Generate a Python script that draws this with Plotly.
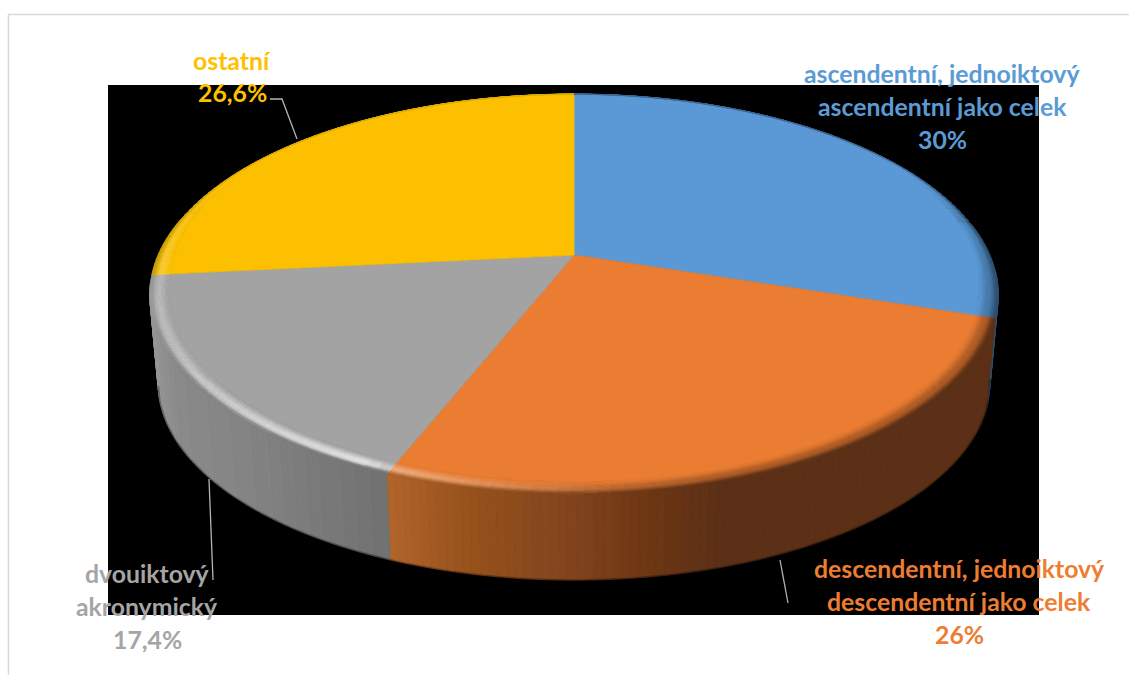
import numpy as np
import plotly.graph_objects as go

# Pie data
categories = ["ascendentní, jednoiktový / ascendentní jako celek",
              "descendentní, jednoiktový / descendentní jako celek",
              "dvouiktový akronymický",
              "ostatní"]
values = [30, 26, 17.4, 26.6]
value_labels = ["30%", "26%", "17,4%", "26,6%"]
label_lines = [
    ["ascendentní, jednoiktový", "ascendentní jako celek"],
    ["descendentní, jednoiktový", "descendentní jako celek"],
    ["dvouiktový", "akronymický"],
    ["ostatní"],
]

# Slice colours
top_colors = [(90, 153, 213), (235, 125, 50), (163, 163, 163), (252, 192, 0)]
text_colors = ["#5B9BD5", "#ED7D31", "#A5A5A5", "#FFC000"]

# Label placement: centre x and the y of each text line
label_x = [942, 959, 147, 232]
label_y = [[73, 106, 139], [568, 601, 634], [573, 606, 639], [60, 92]]
leaders = [None,
           [(780, 560), (788, 603)],
           [(209, 479), (213, 580)],
           [(270, 99), (282, 99), (297, 139)]]

# Perspective model of the tilted disc
CX, CY, A, B, K = 574.0, 255.0, 416.0, 192.7, 0.197
DEPTH, LOWER_SCALE = 90.0, 0.98


def bevel_radius(theta):
    """Inner radius of the rounded edge; it narrows towards the back of the disc."""
    return np.interp(theta, [0, 60, 100, 265, 300, 360], [.993, .99, .955, .955, .99, .993])


def project(theta_deg, r=1.0, lower=False):
    th = np.radians(theta_deg)
    u, v = r * np.sin(th), -r * np.cos(th)
    s = 1.0 / (1.0 - K * v)
    scale = LOWER_SCALE if lower else 1.0
    return CX + A * u * s * scale, CY + B * v * s * scale + (DEPTH if lower else 0.0)


def lerp(c1, c2, t):
    return tuple(a + (b - a) * t for a, b in zip(c1, c2))


def smooth(t):
    t = float(np.clip(t, 0, 1))
    return t * t * (3 - 2 * t)


def wall_color(idx, theta):
    x = project(theta)[0]
    if idx == 1:
        xs = [390, 470, 570, 650, 720, 1000]
        stops = [(176, 100, 42), (150, 82, 28), (130, 68, 30), (108, 54, 20), (92, 48, 22), (92, 48, 22)]
    elif idx == 2:
        xs = [150, 175, 260, 330, 392]
        stops = [(150, 150, 150), (138, 138, 138), (130, 130, 130), (120, 120, 120), (112, 112, 112)]
    elif idx == 0:
        return (45, 78, 112)
    else:
        return (205, 160, 0)
    return tuple(float(np.interp(x, xs, [c[i] for c in stops])) for i in range(3))


def rim_color(idx, theta, t):
    base = top_colors[idx]
    glow = float(np.interp(theta, [160, 178, 190, 201, 205, 225, 245, 264, 300],
                           [0, .1, .25, .36, .7, .52, .3, .22, 0]))
    shade = float(np.interp(theta, [60, 95, 175, 200], [0, 1, 1, 0]))
    strength = float(np.interp(theta, [60, 100, 265, 300], [.7, 1, 1, .7]))
    mid = lerp(lerp(base, (255, 255, 255), glow), wall_color(idx, theta), 0.4 * shade)
    col = lerp(base, mid, smooth(t / 0.55))
    return lerp(col, wall_color(idx, theta), smooth((t - 0.55) / 0.45) * strength)


polys = {}


def add_poly(layer, color, xs, ys):
    key = (layer, "#%02x%02x%02x" % tuple(min(255, int(round(c / 2.0) * 2)) for c in color))
    bucket = polys.setdefault(key, ([], []))
    bucket[0].extend(list(xs) + [xs[0], None])
    bucket[1].extend(list(ys) + [ys[0], None])


# Slice boundaries, clockwise from twelve o'clock
total = sum(values)
edges = np.cumsum([0] + values) * 360.0 / total

wedges = []
for i in range(len(values)):
    start, end = edges[i], edges[i + 1]
    n = max(3, int((end - start) / 1.5))
    angles = np.linspace(start, end, n + 1)

    # Outer wall, only where it faces the viewer
    w0, w1 = max(start, 95.0), min(end, 262.0)
    if w1 > w0:
        wall_angles = np.linspace(w0, w1, int((w1 - w0) / 1.0) + 2)
        for a0, a1 in zip(wall_angles[:-1], wall_angles[1:]):
            xa, ya = project(a0)
            xb, yb = project(a1)
            xc, yc = project(a1, lower=True)
            xd, yd = project(a0, lower=True)
            add_poly("wall", wall_color(i, (a0 + a1) / 2), [xa, xb, xc, xd], [ya, yb, yc, yd])

    # Flat part of the top face
    px, py = project(angles, bevel_radius(angles))
    wedges.append((i, [CX] + list(px) + [CX], [CY] + list(py) + [CY]))

    # Rounded bevel between the top face and the wall
    for j in range(12):
        t0, t1 = j / 12.0, (j + 1) / 12.0
        t = (t0 + t1) / 2
        for a0, a1 in zip(angles[:-1], angles[1:]):
            r0, r1 = bevel_radius(a0), bevel_radius(a1)
            xa, ya = project(a0, r0 + (1 - r0) * t0)
            xb, yb = project(a1, r1 + (1 - r1) * t0)
            xc, yc = project(a1, r1 + (1 - r1) * t1)
            xd, yd = project(a0, r0 + (1 - r0) * t1)
            add_poly("rim", rim_color(i, (a0 + a1) / 2, t), [xa, xb, xc, xd], [ya, yb, yc, yd])

fig = go.Figure()


def add_layer(layer):
    for (name, color), (xs, ys) in polys.items():
        if name == layer:
            fig.add_trace(go.Scatter(x=xs, y=ys, mode="lines", fill="toself", fillcolor=color,
                                     line=dict(color=color, width=0.8), hoverinfo="skip",
                                     showlegend=False))


add_layer("wall")

# Soft dark edge along the bottom of the wall
low_angles = np.linspace(100, 258, 120)
lx, ly = project(low_angles, lower=True)
fig.add_trace(go.Scatter(x=lx, y=ly, mode="lines", line=dict(color="rgba(0,0,0,0.3)", width=2),
                         hoverinfo="skip", showlegend=False))

for i, xs, ys in wedges:
    color = "rgb(%d,%d,%d)" % top_colors[i]
    fig.add_trace(go.Scatter(x=xs, y=ys, mode="lines", fill="toself", fillcolor=color,
                             line=dict(color=color, width=0.8), name=categories[i],
                             hoverinfo="name", showlegend=False))
add_layer("rim")

# Leader lines
for pts in leaders:
    if pts:
        fig.add_trace(go.Scatter(x=[p[0] for p in pts], y=[p[1] for p in pts], mode="lines",
                                 line=dict(color="#B4B4B4", width=1.3), hoverinfo="skip",
                                 showlegend=False))

# Data labels, one annotation per text line
annotations = []
for i in range(len(values)):
    for text, y in zip(label_lines[i] + [value_labels[i]], label_y[i]):
        annotations.append(dict(x=label_x[i], y=y, text="<b>%s</b>" % text, showarrow=False,
                                xanchor="center", yanchor="middle",
                                font=dict(family="Lato, Open Sans, sans-serif", size=24.8,
                                          color=text_colors[i])))

fig.update_layout(
    width=1129, height=675,
    margin=dict(l=0, r=0, t=0, b=0),
    paper_bgcolor="white", plot_bgcolor="white",
    xaxis=dict(range=[0, 1129], visible=False, fixedrange=True),
    yaxis=dict(range=[675, 0], visible=False, fixedrange=True),
    annotations=annotations,
    shapes=[
        dict(type="rect", xref="x", yref="y", x0=108, x1=1039, y0=85, y1=615, layer="below",
             fillcolor="black", line=dict(width=0)),
        dict(type="rect", xref="x", yref="y", x0=8.5, x1=1200, y0=14.5, y1=800, layer="below",
             fillcolor="rgba(0,0,0,0)", line=dict(color="#D9D9D9", width=1.5)),
    ],
)

fig.write_html("out.html", config={"displayModeBar": False})
